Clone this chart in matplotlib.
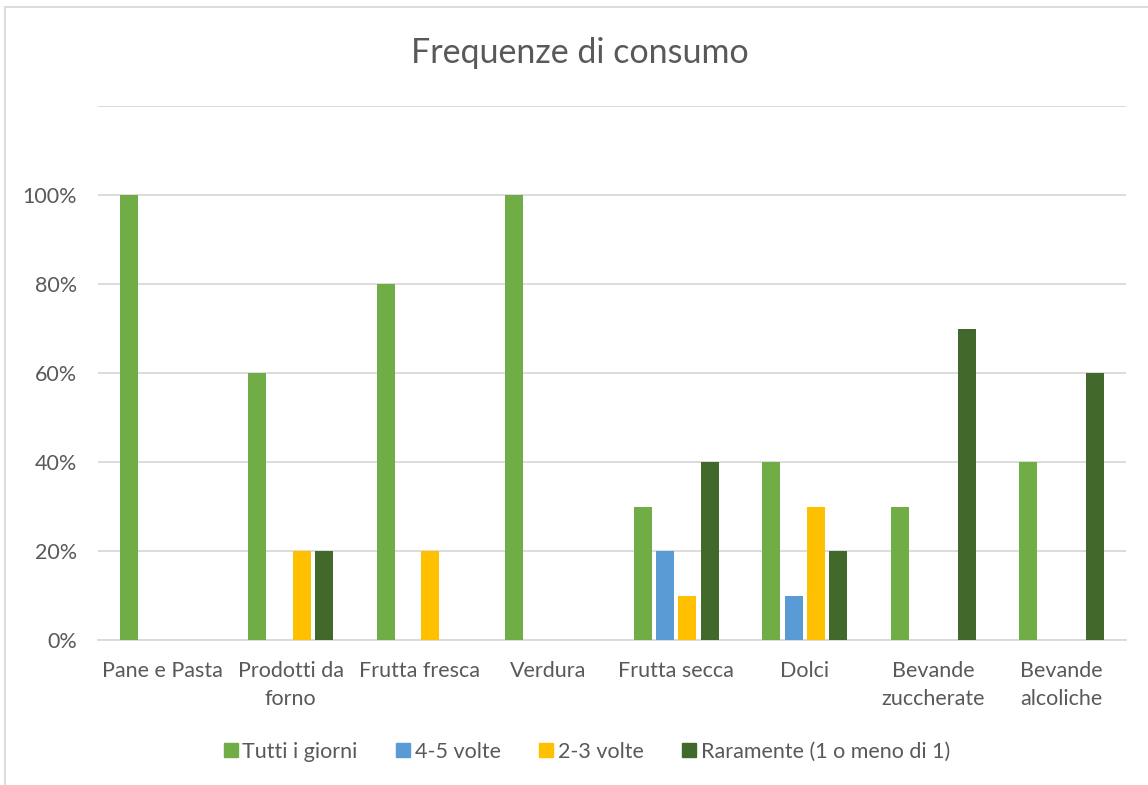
import matplotlib.pyplot as plt
import numpy as np
from matplotlib.lines import Line2D

categories = ['Pane e Pasta', 'Prodotti da\nforno', 'Frutta fresca', 'Verdura',
              'Frutta secca', 'Dolci', 'Bevande\nzuccherate', 'Bevande\nalcoliche']
series_names = ['Tutti i giorni', '4-5 volte', '2-3 volte', 'Raramente (1 o meno di 1)']
tutti = [100, 60, 80, 100, 30, 40, 30, 40]
volte45 = [0, 0, 0, 0, 20, 10, 0, 0]
volte23 = [0, 20, 20, 0, 10, 30, 0, 0]
raramente = [0, 20, 0, 0, 40, 20, 70, 60]
colors = ['#70AD47', '#5B9BD5', '#FFC000', '#43682B']

plt.rcParams['font.family'] = ['Lato', 'DejaVu Sans']
txt = '#595959'

fig = plt.figure(figsize=(11.48, 7.85), dpi=100)
ax = fig.add_axes([98 / 1148, 1 - 640 / 785, (1126 - 98) / 1148, (640 - 106) / 785])

x = np.arange(len(categories))
step = 0.175
width = 0.14
for i, vals in enumerate([tutti, volte45, volte23, raramente]):
    ax.bar(x + (i - 1.5) * step, np.array(vals) / 100, width, color=colors[i],
           label=series_names[i], zorder=3)

ax.set_xlim(-0.5, len(categories) - 0.5)
ax.set_ylim(0, 1.2)
ax.set_yticks([0, 0.2, 0.4, 0.6, 0.8, 1.0, 1.2])
ax.set_yticklabels(['0%', '20%', '40%', '60%', '80%', '100%', ''])
ax.set_xticks(x)
ax.set_xticklabels(categories, linespacing=1.5)
ax.tick_params(axis='both', length=0, labelsize=15.5, colors=txt)
ax.tick_params(axis='x', pad=15)
ax.tick_params(axis='y', pad=15)
ax.grid(axis='y', color='#D9D9D9', linewidth=1.3, zorder=0)
for s in ['top', 'right', 'left']:
    ax.spines[s].set_visible(False)
ax.spines['bottom'].set_color('#D9D9D9')
ax.spines['bottom'].set_linewidth(1.3)

fig.text(580 / 1148, 1 - 53 / 785, 'Frequenze di consumo', ha='center', va='center',
         fontsize=24.5, color=txt)

handles = [Line2D([], [], marker='s', linestyle='', markersize=10, color=c) for c in colors]
fig.legend(handles, series_names, loc='center', bbox_to_anchor=(585 / 1148, 1 - 752 / 785),
           ncol=4, frameon=False, fontsize=15.5, labelcolor=txt, handletextpad=0.05,
           columnspacing=1.6, handlelength=1.0)

# chart border (only left and top visible)
fig.add_artist(Line2D([5 / 1148, 5 / 1148], [0, 1 - 7 / 785], color='#D9D9D9', lw=1.3))
fig.add_artist(Line2D([5 / 1148, 1], [1 - 7 / 785, 1 - 7 / 785], color='#D9D9D9', lw=1.3))

plt.savefig('out.png', dpi=100)
